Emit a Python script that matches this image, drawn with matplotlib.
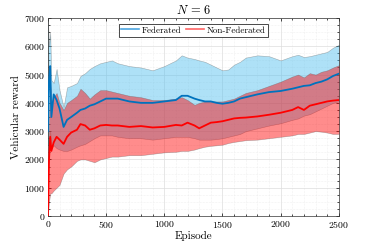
import matplotlib
matplotlib.use("Agg")
import matplotlib.pyplot as plt
from matplotlib.lines import Line2D
from matplotlib.ticker import MultipleLocator

episodes = [0, 10, 20, 30, 50, 75, 100, 135, 165, 200, 250, 280, 320, 360, 400, 450,
            500, 550, 600, 700, 800, 900, 1000, 1100, 1150, 1200, 1260, 1300, 1350,
            1400, 1450, 1500, 1550, 1600, 1650, 1700, 1800, 1900, 2000, 2100, 2150,
            2200, 2250, 2300, 2350, 2400, 2450, 2500]

fed_mean = [3000, 4800, 5300, 3500, 4300, 4100, 3800, 3150, 3400, 3500, 3650, 3750,
            3800, 3900, 3950, 4050, 4150, 4150, 4150, 4050, 4000, 4000, 4050, 4100,
            4250, 4250, 4150, 4100, 4050, 4050, 4000, 3970, 4000, 4050, 4150, 4200,
            4300, 4380, 4420, 4500, 4550, 4600, 4620, 4700, 4750, 4830, 4950, 5030]
fed_upper = [7000, 6000, 6500, 4800, 4700, 5200, 4450, 3850, 4550, 4600, 4700, 4950,
             5050, 5200, 5300, 5400, 5450, 5500, 5400, 5300, 5250, 5150, 5300, 5500,
             5680, 5600, 5550, 5500, 5450, 5350, 5250, 5150, 5180, 5350, 5450, 5600,
             5680, 5650, 5500, 5650, 5700, 5620, 5650, 5700, 5750, 5800, 5950, 6050]
fed_lower = [2500, 2500, 3000, 2400, 2500, 2400, 2350, 2300, 2300, 2350, 2450, 2500,
             2550, 2650, 2750, 2850, 2850, 2850, 2800, 2750, 2750, 2700, 2750, 2800,
             2800, 2800, 2750, 2700, 2700, 2700, 2720, 2750, 2800, 2850, 2900, 3000,
             3100, 3200, 3280, 3400, 3450, 3550, 3600, 3700, 3800, 3900, 4000, 4050]

nonfed_mean = [0, 2000, 2800, 2300, 2600, 2800, 2700, 2550, 2800, 2950, 3050, 3250,
               3200, 3050, 3100, 3200, 3220, 3200, 3200, 3150, 3180, 3130, 3150, 3220,
               3200, 3300, 3200, 3100, 3200, 3300, 3320, 3350, 3400, 3450, 3470, 3480,
               3520, 3580, 3650, 3750, 3850, 3750, 3900, 3950, 4000, 4050, 4080, 4100]
nonfed_upper = [1000, 3500, 4800, 4000, 4200, 4350, 4000, 3750, 4000, 4100, 4250, 4500,
                4350, 4150, 4300, 4450, 4450, 4400, 4350, 4250, 4200, 4100, 4100, 4150,
                4200, 4100, 3930, 4000, 4050, 4050, 4050, 4050, 4100, 4150, 4250, 4350,
                4450, 4600, 4750, 4930, 5000, 4900, 5050, 5000, 5100, 5150, 5250, 5330]
nonfed_lower = [0, 500, 800, 800, 900, 1000, 1100, 1500, 1650, 1750, 1950, 2000,
                2000, 1950, 1900, 2000, 2050, 2100, 2100, 2150, 2150, 2200, 2250, 2270,
                2300, 2300, 2350, 2400, 2450, 2480, 2500, 2520, 2580, 2620, 2650, 2680,
                2700, 2750, 2800, 2850, 2900, 2900, 2950, 3000, 2980, 2950, 2900, 2900]

plt.rcParams['font.family'] = ['cmr10', 'DejaVu Serif']
plt.rcParams['mathtext.fontset'] = 'cm'
plt.rcParams['axes.formatter.use_mathtext'] = True

fig = plt.figure(figsize=(3.74, 2.43), dpi=100)
ax = fig.add_axes([0.128, 0.111, 0.778, 0.815])

# полосы разброса
ax.fill_between(episodes, fed_lower, fed_upper, facecolor='#4DBEEE', alpha=0.45,
                edgecolor='#555555', linewidth=0.4, zorder=2)
ax.fill_between(episodes, nonfed_lower, nonfed_upper, facecolor='#FF0000', alpha=0.45,
                edgecolor='#555555', linewidth=0.4, zorder=3)

# средние значения
ax.plot(episodes, fed_mean, color='#0072BD', linewidth=1.3, zorder=4)
ax.plot(episodes, nonfed_mean, color='#FF0000', linewidth=1.3, zorder=5)

ax.set_xlim(0, 2500)
ax.set_ylim(0, 7000)
ax.xaxis.set_major_locator(MultipleLocator(500))
ax.xaxis.set_minor_locator(MultipleLocator(100))
ax.yaxis.set_major_locator(MultipleLocator(1000))
ax.yaxis.set_minor_locator(MultipleLocator(250))
ax.grid(True, which='major', color='#DDDDDD', linewidth=0.5, zorder=0)
ax.grid(True, which='minor', color='#E4E4E4', linewidth=0.4, linestyle=':', zorder=0)
ax.set_axisbelow(True)
ax.tick_params(which='both', direction='in', top=True, right=True, labelsize=7,
               width=0.5, pad=2)
ax.tick_params(which='major', length=2.5)
ax.tick_params(which='minor', length=1.2)
for s in ax.spines.values():
    s.set_linewidth(0.5)
    s.set_color('#333333')

ax.set_title(r'$N\,=\,6$', fontsize=9, pad=3)
ax.set_xlabel('Episode', fontsize=8, labelpad=1)
ax.set_ylabel('Vehicular reward', fontsize=8, labelpad=2)

handles = [Line2D([], [], color='#4DA6E0', linewidth=1.2),
           Line2D([], [], color='#FF6666', linewidth=1.2)]
leg = ax.legend(handles, ['Federated', 'Non-Federated'], loc='upper center',
                bbox_to_anchor=(0.5, 0.97), ncol=2, fontsize=6.5, frameon=True,
                fancybox=False, edgecolor='black', framealpha=1, handlelength=2.0,
                handletextpad=0.3, columnspacing=0.5, borderpad=0.25, borderaxespad=0.0)
leg.get_frame().set_linewidth(0.5)

fig.savefig('out.png', dpi=100)
